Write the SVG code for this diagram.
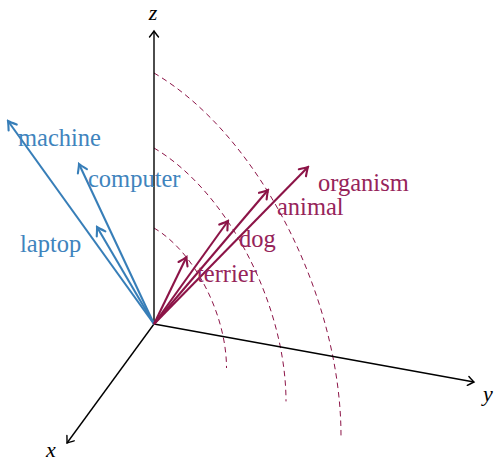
<svg xmlns="http://www.w3.org/2000/svg" width="494" height="463" viewBox="0 0 494 463">
<style>
.ax{stroke:#000;stroke-width:1.4;fill:none;marker-end:url(#mAx)}
.bl{stroke:#377eb8;stroke-width:2.1;fill:none;marker-end:url(#mBl)}
.cr{stroke:#8c1447;stroke-width:2.1;fill:none;marker-end:url(#mCr)}
.arc{stroke:#8c1447;stroke-width:1;fill:none;stroke-dasharray:5.5 4}
text{font-family:"Liberation Serif","DejaVu Serif",serif;font-size:24.5px}
.tb{fill:#3f84bd}
.tc{fill:#96245a}
.ti{font-style:italic;fill:#000;text-anchor:middle;font-size:22px}
</style>
<defs>
<marker id="mAx" markerUnits="userSpaceOnUse" viewBox="-9 -7 11 14" refX="0" refY="0" markerWidth="11" markerHeight="14" orient="auto">
<path d="M-6,-4.5 Q-1.5,-1 0,0 Q-1.5,1 -6,4.5" fill="none" stroke="#000" stroke-width="1.4" stroke-linecap="round"/>
</marker>
<marker id="mBl" markerUnits="userSpaceOnUse" viewBox="-11 -8 13 16" refX="0" refY="0" markerWidth="13" markerHeight="16" orient="auto">
<path d="M-8,-5 Q-2,-1 0,0 Q-2,1 -8,5" fill="none" stroke="#377eb8" stroke-width="2.1" stroke-linecap="round"/>
</marker>
<marker id="mCr" markerUnits="userSpaceOnUse" viewBox="-11 -8 13 16" refX="0" refY="0" markerWidth="13" markerHeight="16" orient="auto">
<path d="M-8,-5 Q-2,-1 0,0 Q-2,1 -8,5" fill="none" stroke="#8c1447" stroke-width="2.1" stroke-linecap="round"/>
</marker>
</defs>
<g id="arcs">
<path class="arc" d="M154,228 C193.8,251.3 226.5,313.8 226.5,368"/>
<path class="arc" d="M154,148 C226.9,190.8 286,304.2 286,401.4"/>
<path class="arc" d="M154,73 C258,134 341,295.8 341,436"/>
</g>
<g id="connectors">
<line class="ax" x1="154" y1="324" x2="154" y2="31"/>
<line class="ax" x1="154" y1="324" x2="474" y2="382"/>
<line class="ax" x1="154" y1="324" x2="67" y2="443"/>
<line class="bl" x1="154" y1="324" x2="8" y2="121"/>
<line class="bl" x1="154" y1="324" x2="79" y2="164"/>
<line class="bl" x1="154" y1="324" x2="97" y2="227"/>
<line class="cr" x1="154" y1="324" x2="186.5" y2="257"/>
<line class="cr" x1="154" y1="324" x2="228" y2="221"/>
<line class="cr" x1="154" y1="324" x2="268" y2="190"/>
<line class="cr" x1="154" y1="324" x2="308" y2="167"/>
</g>
<g id="axis-z"><text class="ti" x="153" y="20">z</text></g>
<g id="axis-y"><text class="ti" x="488" y="401">y</text></g>
<g id="axis-x"><text class="ti" x="51" y="457">x</text></g>
<g id="machine"><text class="tb" x="18" y="146">machine</text></g>
<g id="computer"><text class="tb" x="88" y="187">computer</text></g>
<g id="laptop"><text class="tb" x="20" y="252">laptop</text></g>
<g id="terrier"><text class="tc" x="197" y="282">terrier</text></g>
<g id="dog"><text class="tc" x="239" y="247">dog</text></g>
<g id="animal"><text class="tc" x="277" y="215">animal</text></g>
<g id="organism"><text class="tc" x="318" y="191">organism</text></g>
</svg>
